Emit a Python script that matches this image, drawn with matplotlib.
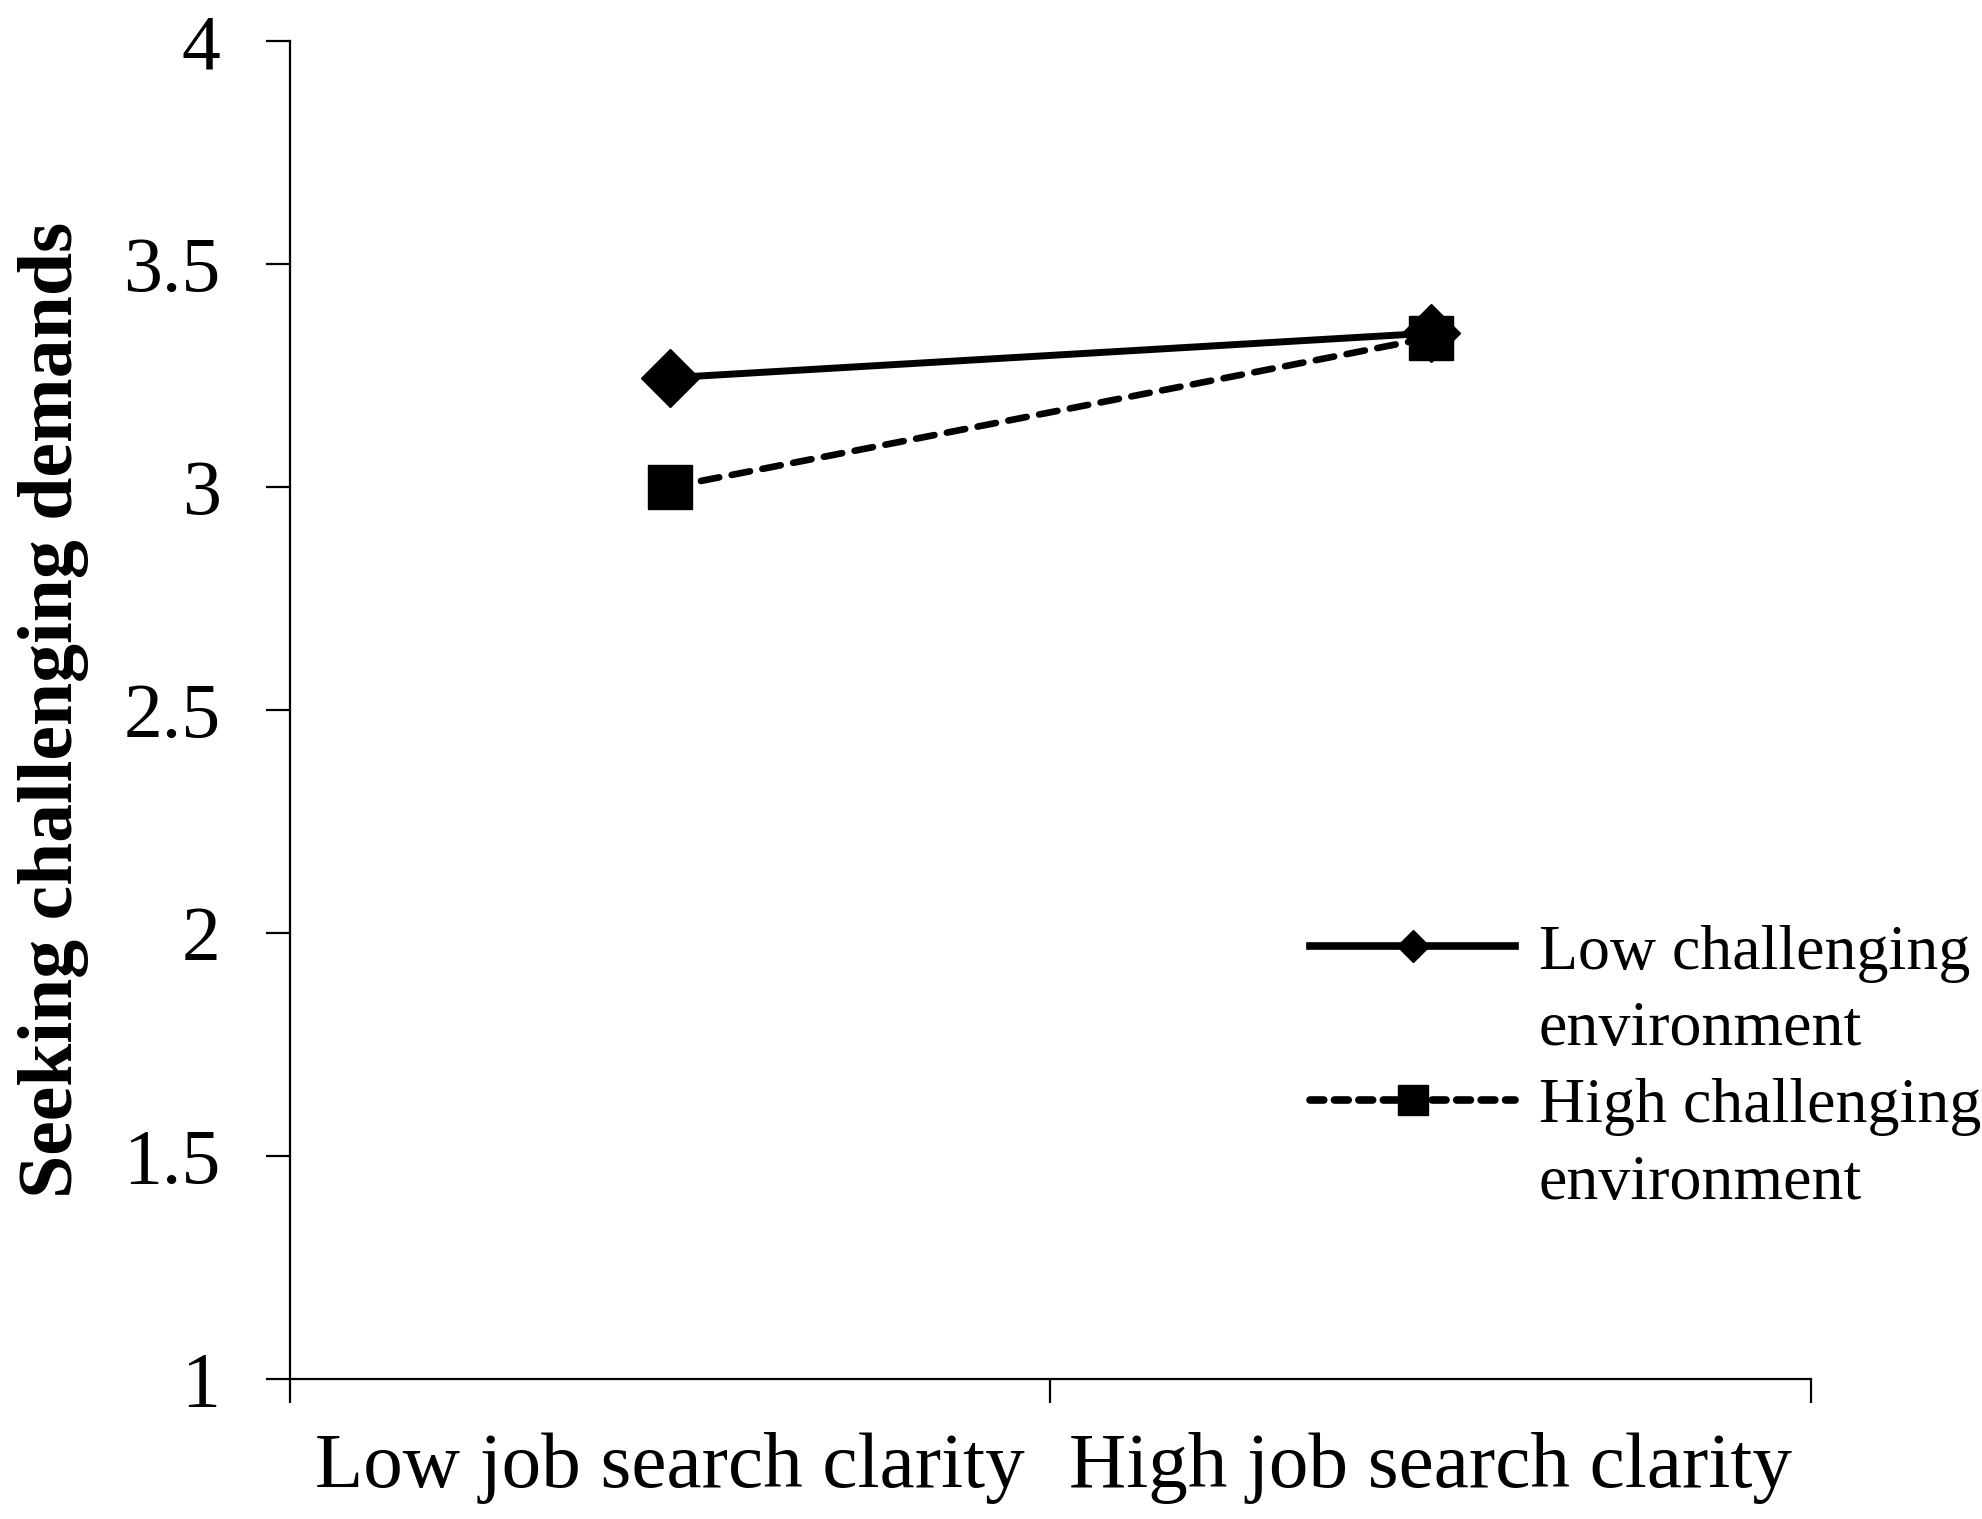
import matplotlib.pyplot as plt
from matplotlib.lines import Line2D

plt.rcParams["font.family"] = ["Liberation Serif", "DejaVu Serif"]

# ------ data -------
categories = ["Low job search clarity", "High job search clarity"]
low_env = [3.245, 3.345]
high_env = [3.0, 3.335]
series_names = [["Low challenging", "environment"], ["High challenging", "environment"]]
yticks = [1, 1.5, 2, 2.5, 3, 3.5, 4]
ytick_labels = ["1", "1.5", "2", "2.5", "3", "3.5", "4"]

fig = plt.figure(figsize=(19.83, 15.19), dpi=100)
ax = fig.add_axes([0.1462, 0.0922, 0.7670, 0.8808])

x = [0.5, 1.5]
ax.plot(x, low_env, color="black", lw=5, marker="D", ms=30,
        solid_capstyle="round", zorder=3)
ax.plot(x, high_env, color="black", lw=4.8, marker="s", ms=31,
        linestyle=(0, (2.8, 1.9)), dash_capstyle="round", zorder=3)

ax.set_xlim(0, 2)
ax.set_ylim(1, 4)

# major ticks at the category boundaries, labels at the centres
ax.set_xticks([0, 1, 2])
ax.set_xticklabels([])
ax.set_xticks(x, minor=True)
ax.set_xticklabels(categories, minor=True, fontsize=57)
ax.tick_params(axis="x", which="major", direction="out", length=17, width=1.6)
ax.tick_params(axis="x", which="minor", length=0, pad=38)

ax.set_yticks(yticks)
ax.set_yticklabels(ytick_labels, fontsize=56)
ax.tick_params(axis="y", direction="out", length=17, width=1.6, pad=33)

for side in ["top", "right"]:
    ax.spines[side].set_visible(False)
for side in ["left", "bottom"]:
    ax.spines[side].set_linewidth(1.6)

ax.set_ylabel("Seeking challenging demands", fontsize=56, fontweight="bold")
ax.yaxis.set_label_coords(-0.132, 0.5)

# legend: marker sits on the first line of each two-line entry
blank = Line2D([], [], color="none")
handles = [
    Line2D([], [], color="black", lw=5.5, marker="D", ms=16),
    blank,
    Line2D([], [], color="black", lw=5.5, marker="s", ms=21,
           linestyle=(0, (1.8, 1.4)), dash_capstyle="round"),
    blank,
]
labels = series_names[0] + series_names[1]
leg = ax.legend(handles, labels, loc="upper left",
                bbox_to_anchor=(0.671, 0.34), fontsize=46, frameon=False,
                handlelength=3.2, handletextpad=0.37, labelspacing=0.28,
                borderpad=0, borderaxespad=0)

fig.savefig("out.png", dpi=100)
